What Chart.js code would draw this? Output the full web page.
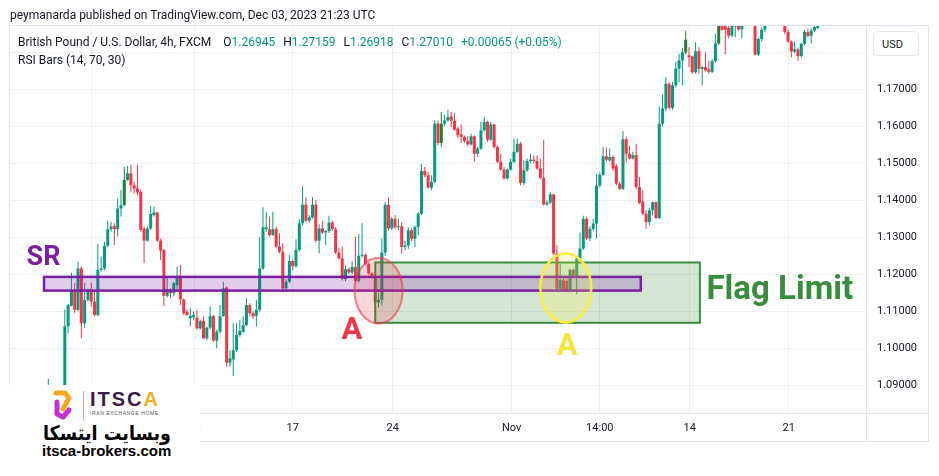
<!DOCTYPE html>
<html><head><meta charset="utf-8">
<script src="https://cdn.jsdelivr.net/npm/chart.js@4.4.0/dist/chart.umd.min.js"></script>
<style>
html,body{margin:0;padding:0;background:#fff;}
#wrap{position:relative;width:939px;height:476px;overflow:hidden;font-family:Roboto,"Noto Sans",sans-serif;color:#131722;}
canvas{position:absolute;left:0;top:0;}
.t{position:absolute;white-space:nowrap;line-height:1;}
.v{color:#089981;}
#usd{position:absolute;left:873px;top:31px;width:46px;height:25px;border:1px solid #e0e3eb;border-radius:5px;background:#fff;font-size:11px;line-height:25px;box-sizing:border-box;padding-left:8px;}
#logo{position:absolute;left:0;top:385px;width:200px;height:76px;background:#fff;}
</style></head>
<body><div id="wrap">
<canvas id="c" width="939" height="476"></canvas>
<div class="t" style="left:10px;top:9px;font-size:12px;">peymanarda published on TradingView.com, Dec 03, 2023 21:23 UTC</div>
<div class="t" style="left:18px;top:36px;font-size:12px;">British Pound / U.S. Dollar, 4h, FXCM<span style="margin-left:12px">O</span><span class="v">1.26945</span><span style="margin-left:8px">H</span><span class="v">1.27159</span><span style="margin-left:8px">L</span><span class="v">1.26918</span><span style="margin-left:8px">C</span><span class="v">1.27010</span><span class="v" style="margin-left:8px">+0.00065 (+0.05%)</span></div>
<div class="t" style="left:18px;top:54px;font-size:12px;">RSI Bars (14, 70, 30)</div>
<div id="usd">USD</div>
<div id="logo">
  <svg style="position:absolute;left:51px;top:4px" width="24" height="32" viewBox="0 0 24 32">
    <polyline points="5,4 14,4 18,9 12,20" fill="none" stroke="#f3a81d" stroke-width="5" stroke-linecap="round" stroke-linejoin="round"/>
    <polyline points="6,13 6,25 12,28 18,21" fill="none" stroke="#c42fd3" stroke-width="5" stroke-linecap="round" stroke-linejoin="round"/>
  </svg>
  <div style="position:absolute;left:83px;top:6px;width:1px;height:30px;background:#bbb;"></div>
  <div class="t" style="left:90px;top:4px;font-size:20px;font-weight:700;letter-spacing:2px;color:#3a1a47;font-family:'Liberation Sans',sans-serif;">ITSC<span style="color:#f0b21f">A</span></div>
  <div class="t" style="left:90px;top:26px;font-size:5px;letter-spacing:0.6px;color:#555;font-family:'Liberation Sans',sans-serif;">IRAN EXCHANGE HOME</div>
  <div class="t" dir="rtl" style="left:43px;top:38px;font-size:20px;font-weight:700;color:#000;font-family:'DejaVu Sans',sans-serif;transform:scaleX(0.88);transform-origin:left center;">وبسایت ایتسکا</div>
  <div class="t" style="left:42px;top:58px;font-size:15px;font-weight:700;color:#000;font-family:'Liberation Sans',sans-serif;">itsca-brokers.com</div>
</div>
</div>
<script>
// ---- DATA (GBP/USD 4h candles, bar numbers relative to Oct 17 00:00) ----
const startBar = -74;
const opens = [
 1.0880,1.0895,1.0868,1.0860,1.0872,1.0858,1.1060,1.1115,1.1158,1.1104,
 1.1216,1.1068,1.1131,1.1158,1.1126,1.1090,1.1212,1.1216,1.1277,1.1322,
 1.1331,1.1322,1.1378,1.1387,1.1455,1.1473,1.1441,1.1432,1.1423,1.1324,
 1.1291,1.1324,1.1360,1.1367,1.1291,1.1266,1.1142,1.1159,1.1149,1.1170,
 1.1192,1.1132,1.1099,1.1081,1.1084,1.1083,1.1054,1.1074,1.1027,1.1056,
 1.1087,1.1021,1.1045,1.1087,1.1164,1.0961,1.0970,1.0995,1.1036,1.1045,
 1.1063,1.1117,1.1095,1.1088,1.1104,1.1216,1.1322,1.1322,1.1306,1.1322,
 1.1275,1.1261,1.1162,1.1180,1.1236,1.1222,1.1266,1.1338,1.1388,1.1345,
 1.1354,1.1388,1.1291,1.1324,1.1313,1.1317,1.1340,1.1322,1.1259,1.1243,
 1.1187,1.1214,1.1205,1.1220,1.1182,1.1250,1.1253,1.1228,1.1203,1.1194,
 1.1124,1.1131,1.1259,1.1388,1.1324,1.1350,1.1327,1.1330,1.1274,1.1278,
 1.1319,1.1296,1.1328,1.1364,1.1479,1.1468,1.1434,1.1450,1.1607,1.1555,
 1.1607,1.1616,1.1627,1.1615,1.1594,1.1578,1.1571,1.1560,1.1551,1.1573,
 1.1526,1.1540,1.1589,1.1612,1.1564,1.1605,1.1544,1.1504,1.1483,1.1459,
 1.1483,1.1504,1.1531,1.1553,1.1447,1.1481,1.1506,1.1510,1.1506,1.1486,
 1.1461,1.1389,1.1394,1.1416,1.1256,1.1161,1.1184,1.1182,1.1157,1.1212,
 1.1196,1.1243,1.1270,1.1350,1.1297,1.1323,1.1337,1.1440,1.1469,1.1519,
 1.1508,1.1517,1.1492,1.1445,1.1431,1.1565,1.1526,1.1513,1.1522,1.1436,
 1.1397,1.1364,1.1341,1.1373,1.1395,1.1352,1.1607,1.1648,1.1715,1.1650,
 1.1711,1.1756,1.1778,1.1800,1.1792,1.1789,1.1746,1.1803,1.1755,1.1760,
 1.1754,1.1747,1.1776,1.1824,1.1880,1.1880,1.1866,1.1845,1.1870,1.1885,
 1.1862,1.1890,1.1905,1.1895,1.1910,1.1794,1.1836,1.1861,1.1885,1.1900,
 1.1890,1.1905,1.1895,1.1885,1.1855,1.1829,1.1802,1.1808,1.1790,1.1823,
 1.1855,1.1845,1.1859,1.1866
];
const highs = [
 1.0918,1.0898,1.0885,1.0880,1.0888,1.1105,1.1120,1.1204,1.1176,1.1234,
 1.1221,1.1177,1.1162,1.1177,1.1158,1.1282,1.1248,1.1288,1.1345,1.1342,
 1.1338,1.1405,1.1428,1.1491,1.1493,1.1496,1.1450,1.1496,1.1430,1.1329,
 1.1329,1.1385,1.1383,1.1369,1.1297,1.1268,1.1192,1.1162,1.1180,1.1221,
 1.1225,1.1135,1.1105,1.1108,1.1100,1.1105,1.1077,1.1086,1.1059,1.1113,
 1.1090,1.1050,1.1117,1.1180,1.1167,1.0995,1.1068,1.1068,1.1077,1.1086,
 1.1135,1.1122,1.1100,1.1131,1.1300,1.1381,1.1369,1.1356,1.1369,1.1329,
 1.1311,1.1284,1.1186,1.1252,1.1240,1.1295,1.1349,1.1439,1.1408,1.1360,
 1.1408,1.1401,1.1335,1.1345,1.1320,1.1358,1.1345,1.1327,1.1272,1.1275,
 1.1223,1.1218,1.1236,1.1302,1.1309,1.1338,1.1257,1.1232,1.1206,1.1197,
 1.1150,1.1297,1.1395,1.1408,1.1355,1.1360,1.1351,1.1341,1.1290,1.1328,
 1.1325,1.1332,1.1368,1.1499,1.1490,1.1477,1.1468,1.1616,1.1616,1.1639,
 1.1632,1.1645,1.1639,1.1636,1.1598,1.1605,1.1575,1.1573,1.1580,1.1576,
 1.1544,1.1612,1.1625,1.1615,1.1612,1.1607,1.1549,1.1526,1.1490,1.1486,
 1.1513,1.1567,1.1567,1.1558,1.1508,1.1513,1.1526,1.1522,1.1522,1.1513,
 1.1564,1.1400,1.1422,1.1418,1.1278,1.1229,1.1190,1.1186,1.1216,1.1216,
 1.1250,1.1313,1.1358,1.1355,1.1330,1.1350,1.1472,1.1476,1.1544,1.1542,
 1.1540,1.1522,1.1498,1.1450,1.1587,1.1572,1.1547,1.1531,1.1553,1.1463,
 1.1427,1.1373,1.1380,1.1397,1.1397,1.1654,1.1686,1.1733,1.1720,1.1720,
 1.1774,1.1796,1.1812,1.1858,1.1814,1.1791,1.1827,1.1814,1.1764,1.1800,
 1.1778,1.1782,1.1850,1.1900,1.1895,1.1890,1.1880,1.1895,1.1900,1.1890,
 1.1900,1.1915,1.1920,1.1925,1.1915,1.1840,1.1868,1.1895,1.1915,1.1912,
 1.1918,1.1915,1.1905,1.1890,1.1860,1.1832,1.1830,1.1813,1.1826,1.1861,
 1.1864,1.1864,1.1880,1.1890
];
const lows = [
 1.0872,1.0862,1.0850,1.0845,1.0852,1.0852,1.1040,1.1113,1.1095,1.1100,
 1.1027,1.1054,1.1126,1.1113,1.1087,1.1087,1.1207,1.1212,1.1273,1.1315,
 1.1279,1.1302,1.1356,1.1383,1.1453,1.1423,1.1419,1.1414,1.1315,1.1230,
 1.1288,1.1320,1.1356,1.1288,1.1239,1.1114,1.1138,1.1135,1.1140,1.1153,
 1.1117,1.1090,1.1087,1.1059,1.1075,1.1051,1.1050,1.1025,1.1022,1.1051,
 1.1018,1.1000,1.1040,1.1086,1.0950,1.0950,1.0925,1.0991,1.1031,1.1042,
 1.1060,1.1086,1.1080,1.1059,1.1099,1.1212,1.1315,1.1302,1.1304,1.1270,
 1.1257,1.1153,1.1158,1.1176,1.1212,1.1218,1.1262,1.1332,1.1340,1.1340,
 1.1350,1.1285,1.1257,1.1309,1.1279,1.1312,1.1318,1.1255,1.1240,1.1183,
 1.1181,1.1200,1.1200,1.1178,1.1178,1.1245,1.1224,1.1199,1.1190,1.1068,
 1.1110,1.1115,1.1250,1.1318,1.1320,1.1322,1.1320,1.1256,1.1265,1.1269,
 1.1290,1.1274,1.1305,1.1360,1.1462,1.1432,1.1427,1.1446,1.1549,1.1544,
 1.1600,1.1612,1.1598,1.1588,1.1568,1.1555,1.1555,1.1548,1.1548,1.1504,
 1.1517,1.1536,1.1585,1.1558,1.1560,1.1540,1.1500,1.1480,1.1456,1.1456,
 1.1480,1.1500,1.1527,1.1441,1.1441,1.1477,1.1500,1.1500,1.1482,1.1457,
 1.1386,1.1385,1.1390,1.1252,1.1157,1.1159,1.1155,1.1152,1.1155,1.1190,
 1.1146,1.1240,1.1266,1.1292,1.1290,1.1318,1.1296,1.1436,1.1465,1.1505,
 1.1504,1.1480,1.1440,1.1428,1.1428,1.1502,1.1510,1.1510,1.1430,1.1390,
 1.1360,1.1323,1.1332,1.1359,1.1350,1.1350,1.1600,1.1640,1.1645,1.1645,
 1.1705,1.1719,1.1710,1.1795,1.1760,1.1742,1.1742,1.1742,1.1710,1.1748,
 1.1742,1.1744,1.1772,1.1820,1.1858,1.1794,1.1838,1.1841,1.1841,1.1858,
 1.1838,1.1875,1.1880,1.1885,1.1792,1.1790,1.1830,1.1855,1.1878,1.1880,
 1.1882,1.1885,1.1875,1.1849,1.1825,1.1786,1.1798,1.1777,1.1786,1.1819,
 1.1840,1.1824,1.1855,1.1862
];
const closes = [
 1.0895,1.0868,1.0860,1.0872,1.0858,1.1060,1.1117,1.1158,1.1104,1.1216,
 1.1068,1.1131,1.1158,1.1126,1.1090,1.1212,1.1216,1.1277,1.1322,1.1329,
 1.1322,1.1378,1.1387,1.1455,1.1473,1.1441,1.1432,1.1421,1.1320,1.1291,
 1.1324,1.1363,1.1367,1.1291,1.1264,1.1142,1.1159,1.1149,1.1176,1.1192,
 1.1132,1.1095,1.1090,1.1088,1.1090,1.1054,1.1074,1.1027,1.1056,1.1087,
 1.1021,1.1045,1.1087,1.1162,1.0961,1.0973,1.0995,1.1036,1.1047,1.1063,
 1.1117,1.1095,1.1086,1.1104,1.1216,1.1327,1.1327,1.1306,1.1322,1.1275,
 1.1261,1.1162,1.1180,1.1236,1.1222,1.1266,1.1338,1.1388,1.1345,1.1354,
 1.1388,1.1291,1.1324,1.1313,1.1317,1.1340,1.1322,1.1259,1.1243,1.1187,
 1.1214,1.1205,1.1220,1.1182,1.1250,1.1253,1.1228,1.1203,1.1194,1.1124,
 1.1131,1.1259,1.1388,1.1324,1.1350,1.1327,1.1330,1.1274,1.1278,1.1319,
 1.1296,1.1328,1.1364,1.1479,1.1468,1.1434,1.1450,1.1607,1.1555,1.1607,
 1.1616,1.1625,1.1615,1.1591,1.1576,1.1571,1.1560,1.1551,1.1573,1.1526,
 1.1540,1.1589,1.1612,1.1564,1.1605,1.1544,1.1504,1.1483,1.1459,1.1483,
 1.1504,1.1531,1.1553,1.1447,1.1481,1.1506,1.1510,1.1506,1.1486,1.1461,
 1.1389,1.1394,1.1416,1.1256,1.1161,1.1184,1.1159,1.1157,1.1212,1.1196,
 1.1243,1.1270,1.1350,1.1297,1.1323,1.1337,1.1440,1.1469,1.1519,1.1510,
 1.1517,1.1486,1.1445,1.1431,1.1565,1.1526,1.1513,1.1522,1.1436,1.1393,
 1.1364,1.1341,1.1373,1.1395,1.1352,1.1607,1.1648,1.1715,1.1650,1.1711,
 1.1756,1.1778,1.1800,1.1834,1.1787,1.1746,1.1803,1.1755,1.1760,1.1751,
 1.1747,1.1776,1.1824,1.1880,1.1861,1.1861,1.1845,1.1880,1.1885,1.1862,
 1.1890,1.1905,1.1895,1.1910,1.1794,1.1836,1.1861,1.1885,1.1900,1.1890,
 1.1905,1.1895,1.1885,1.1855,1.1829,1.1802,1.1808,1.1790,1.1823,1.1855,
 1.1844,1.1859,1.1868,1.1880
];
// bars flagged by the RSI Bars indicator (overbought colouring)
const rsiHighlightBars = [-51, 45, 119, 129];
// time-axis ticks (bar numbers) and their labels
const timeTickBars = [-60.8, -29.7, 0, 30.3, 66.3, 93, 120.2, 150.2];
const timeTickLabels = ['3', '10', '17', '24', 'Nov', '14:00', '14', '21'];
// price-axis ticks
const priceTicks = [1.09, 1.10, 1.11, 1.12, 1.13, 1.14, 1.15, 1.16, 1.17, 1.18];

// ---- annotations (bar number / price units) ----
const srZone = {x0: -75.3, x1: 105.4, top: 1.1193, bottom: 1.1156};
const flagZone = {x0: 25.0, x1: 123.3, top: 1.1232, bottom: 1.1069};
const redMark = {cx: 26.0, cy: 1.1156, rx: 7.3, ry: 0.0089};
const yellowMark = {cx: 82.7, cy: 1.1163, rx: 7.7, ry: 0.0093};
const labelsOnChart = [
  {text: 'SR', x: -80.6, y: 1.1226, color: '#7b1fa2', size: 27},
  {text: 'A', x: 14.75, y: 1.1025, color: '#f23645', size: 31},
  {text: 'A', x: 79.95, y: 1.0983, color: '#f7e53b', size: 31},
  {text: 'Flag Limit', x: 125.3, y: 1.1132, color: '#388e3c', size: 33}
];

// ---- build ----
const UP = '#089981', DOWN = '#f23645', HILITE = '#1f7f33';
const barNums = opens.map((_, i) => startBar + i);
const colors = barNums.map((b, i) => rsiHighlightBars.includes(b) ? HILITE : (closes[i] >= opens[i] ? UP : DOWN));
const wickData = barNums.map((b, i) => ({x: b, y: [lows[i], highs[i]]}));
const bodyData = barNums.map((b, i) => ({x: b, y: [Math.min(opens[i], closes[i]), Math.max(opens[i], closes[i])]}));

const annotPlugin = {
  id: 'annot',
  afterDatasetsDraw(chart) {
    const {ctx, chartArea: a} = chart;
    const X = chart.scales.x, Y = chart.scales.y;
    ctx.save();
    ctx.beginPath(); ctx.rect(a.left, a.top, a.right - a.left, a.bottom - a.top); ctx.clip();
    function box(z, fill, stroke, lw) {
      const x0 = X.getPixelForValue(z.x0), x1 = X.getPixelForValue(z.x1);
      const y0 = Y.getPixelForValue(z.top), y1 = Y.getPixelForValue(z.bottom);
      ctx.fillStyle = fill; ctx.fillRect(x0, y0, x1 - x0, y1 - y0);
      ctx.strokeStyle = stroke; ctx.lineWidth = lw; ctx.strokeRect(x0, y0, x1 - x0, y1 - y0);
    }
    function ell(m, fill, stroke, lw) {
      const cx = X.getPixelForValue(m.cx), cy = Y.getPixelForValue(m.cy);
      const rx = Math.abs(X.getPixelForValue(m.cx + m.rx) - cx);
      const ry = Math.abs(Y.getPixelForValue(m.cy + m.ry) - cy);
      ctx.beginPath(); ctx.ellipse(cx, cy, rx, ry, 0, 0, Math.PI * 2);
      ctx.fillStyle = fill; ctx.fill();
      ctx.strokeStyle = stroke; ctx.lineWidth = lw; ctx.stroke();
    }
    box(flagZone, 'rgba(56,142,60,0.22)', '#388e3c', 2);
    box(srZone, 'rgba(123,31,162,0.22)', '#7b1fa2', 2.5);
    ell(redMark, 'rgba(242,54,69,0.2)', 'rgba(242,54,69,0.6)', 2);
    ell(yellowMark, 'rgba(255,235,59,0.2)', '#ffeb3b', 2.5);
    labelsOnChart.forEach(l => {
      ctx.font = 'bold ' + l.size + 'px Roboto, sans-serif';
      ctx.fillStyle = l.color; ctx.textBaseline = 'alphabetic'; ctx.textAlign = 'left';
      ctx.fillText(l.text, X.getPixelForValue(l.x), Y.getPixelForValue(l.y));
    });
    ctx.restore();
  },
  afterDraw(chart) {
    const {ctx, chartArea: a} = chart;
    ctx.save();
    ctx.strokeStyle = '#e0e3eb'; ctx.lineWidth = 1;
    ctx.beginPath();
    ctx.moveTo(a.left - 0.5, a.top - 0.5); ctx.lineTo(928.5, a.top - 0.5);
    ctx.moveTo(a.left - 0.5, a.top - 0.5); ctx.lineTo(a.left - 0.5, 441.5);
    ctx.moveTo(928.5, a.top - 0.5); ctx.lineTo(928.5, 441.5);
    ctx.moveTo(a.left - 0.5, 441.5); ctx.lineTo(928.5, 441.5);
    ctx.moveTo(a.left - 0.5, a.bottom + 0.5); ctx.lineTo(928.5, a.bottom + 0.5);
    ctx.moveTo(a.right + 0.5, a.top); ctx.lineTo(a.right + 0.5, 441.5);
    ctx.stroke();
    ctx.restore();
  }
};

Chart.defaults.font.family = 'Roboto, sans-serif';
new Chart(document.getElementById('c'), {
  type: 'bar',
  data: {
    datasets: [
      {data: bodyData, backgroundColor: colors, barThickness: 3, minBarLength: 1, grouped: false, clip: 0, borderWidth: 0, inflateAmount: 0, order: 1},
      {data: wickData, backgroundColor: colors, barThickness: 1, grouped: false, clip: 0, borderWidth: 0, inflateAmount: 0, order: 2}
    ]
  },
  options: {
    responsive: false, animation: false, devicePixelRatio: 1,
    layout: {padding: {left: 10, top: 26, right: 11, bottom: 35}},
    plugins: {legend: {display: false}, tooltip: {enabled: false}},
    scales: {
      x: {
        type: 'linear', min: -85.6, max: 173.6, offset: false,
        grid: {color: 'rgba(42,46,57,0.07)', drawTicks: false, offset: false},
        border: {display: false},
        afterBuildTicks: s => { s.ticks = timeTickBars.map(v => ({value: v})); },
        afterFit: s => { s.height = 28; },
        ticks: {autoSkip: false, maxRotation: 0, padding: 9, color: '#131722', font: {size: 11},
          callback: (v, i) => timeTickLabels[i]}
      },
      y: {
        type: 'linear', position: 'right', min: 1.08252, max: 1.18711, beginAtZero: false,
        grid: {color: 'rgba(42,46,57,0.07)', drawTicks: false},
        border: {display: false},
        afterBuildTicks: s => { s.ticks = priceTicks.map(v => ({value: v})); },
        afterFit: s => { s.width = 62; },
        ticks: {padding: 11, color: '#131722', font: {size: 11}, callback: v => Number(v).toFixed(5)}
      }
    }
  },
  plugins: [annotPlugin]
});
</script>
</body></html>
